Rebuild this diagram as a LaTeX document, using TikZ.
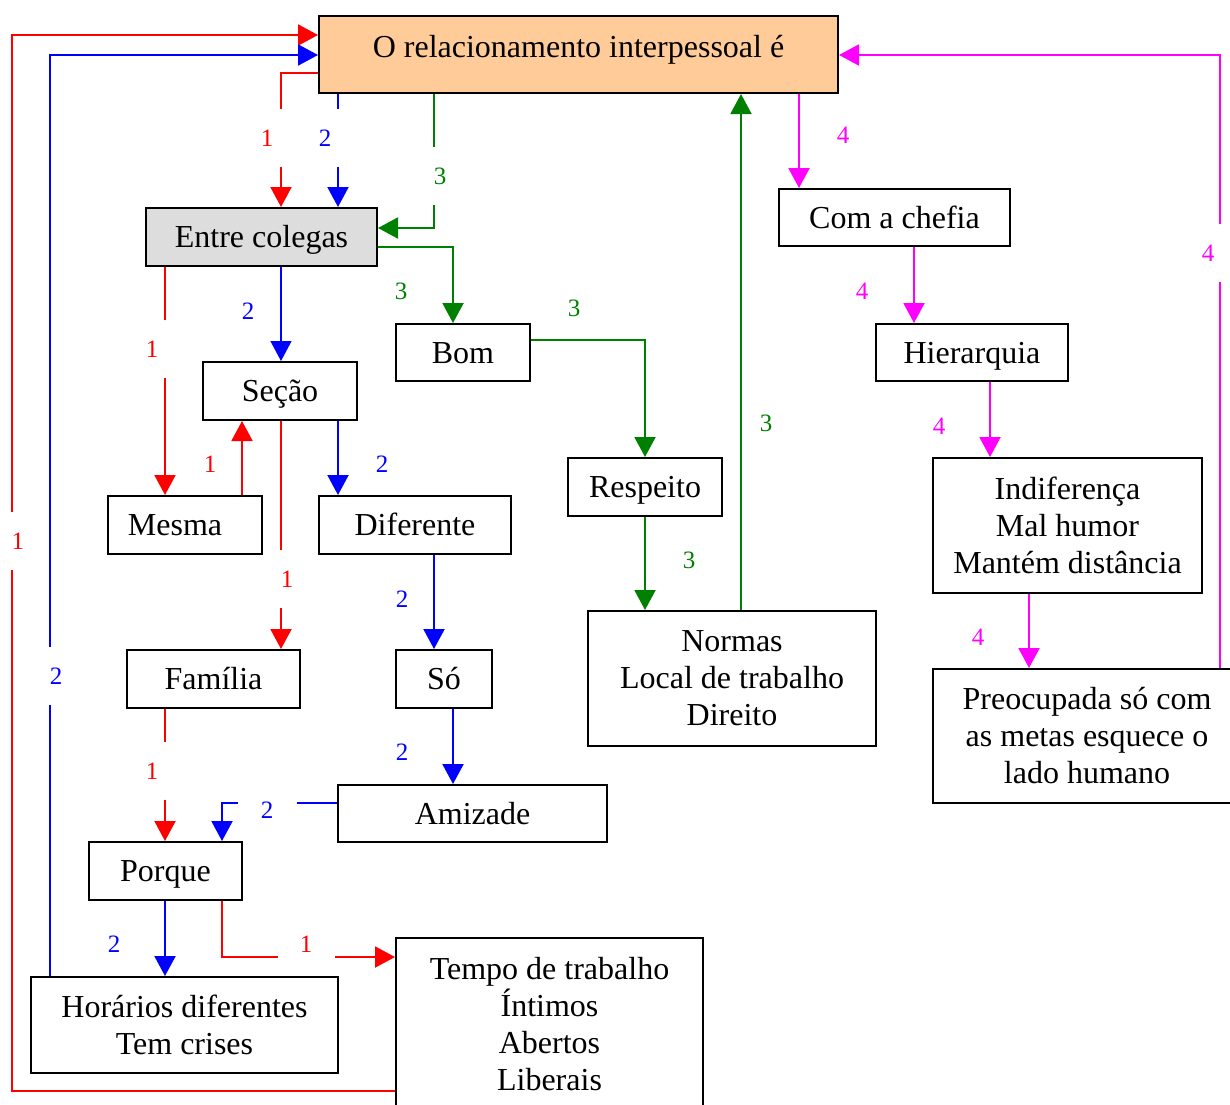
\documentclass[tikz,border=0pt]{standalone}
\usepackage{fontspec}
\setmainfont{Liberation Serif}
\usetikzlibrary{arrows.meta}
\definecolor{peach}{HTML}{FFCC99}
\definecolor{lgray}{HTML}{DDDDDD}
\definecolor{cred}{HTML}{FF0000}
\definecolor{cblue}{HTML}{0000FF}
\definecolor{cgreen}{HTML}{008000}
\definecolor{cmag}{HTML}{FF00FF}
\begin{document}
\begin{tikzpicture}[x=0.5pt,y=-0.5pt,
  bx/.style={draw=black, line width=1pt, fill=white, inner sep=0pt, align=center,
    font=\fontsize{16}{18.5}\selectfont},
  oneA/.style={text height=19.5pt, text depth=9.5pt},
  oneB/.style={text height=19.5pt, text depth=9pt},
  con/.style={line width=1pt, -{Triangle[length=10pt,width=10.5pt]}},
  rc/.style={con, draw=cred},
  bc/.style={con, draw=cblue},
  gc/.style={con, draw=cgreen},
  mc/.style={con, draw=cmag},
  lbl/.style={inner sep=0pt, font=\fontsize{12.5}{14}\selectfont},
  gapbox/.style={fill=white}]
\useasboundingbox (0,0) rectangle (1230,1104);
% boxes
\node[bx, fill=peach, minimum width=259.5pt, text height=20.5pt, text depth=18pt] (top) at (578.5,54.5) {O relacionamento interpessoal é};
\node[bx, oneA, fill=lgray, minimum width=115.5pt] (entre) at (261.5,237) {Entre colegas};
\node[bx, oneB, minimum width=67pt] (bom) at (463,352.5) {Bom};
\node[bx, oneA, minimum width=77pt] (secao) at (280,391) {Seção};
\node[bx, oneA, minimum width=77pt] (mesma) at (185,525) {Mesma\hspace{10pt}};
\node[bx, oneA, minimum width=96pt] (diferente) at (415,525) {Diferente};
\node[bx, oneA, minimum width=77pt] (respeito) at (645,487) {Respeito};
\node[bx, oneB, minimum width=115.5pt] (chefia) at (894.5,217.5) {Com a chefia};
\node[bx, oneB, minimum width=96pt] (hier) at (972,352.5) {Hierarquia};
\node[bx, minimum width=134.5pt, minimum height=67.5pt] (indif) at (1067.5,525.5) {Indiferença\\Mal humor\\Mantém distância};
\node[bx, minimum width=144pt, minimum height=67.5pt] (normas) at (732,678.5) {Normas\\Local de trabalho\\Direito};
\node[bx, minimum width=154pt, minimum height=67pt] (preoc) at (1087,736) {Preocupada só com\\as metas esquece o\\lado humano};
\node[bx, oneA, minimum width=86.5pt] (familia) at (213.5,679) {Família};
\node[bx, oneA, minimum width=48pt] (so) at (444,679) {Só};
\node[bx, oneB, minimum width=134.5pt] (amizade) at (472.5,813.5) {Amizade};
\node[bx, oneA, minimum width=76.5pt] (porque) at (165.5,871) {Porque};
\node[bx, minimum width=153.5pt, minimum height=48pt] (horarios) at (184.5,1025) {Horários diferentes\\Tem crises};
\node[bx, minimum width=153.5pt, minimum height=86pt] (tempo) at (549.5,1024) {Tempo de trabalho\\Íntimos\\Abertos\\Liberais};
% red connectors (1)
\draw[rc] (top.west |- 0,73) -| (entre.north -| 281,0);
\draw[rc] (entre.south -| 165,0) -- (mesma.north -| 165,0);
\draw[rc] (mesma.north -| 242,0) -- (secao.south -| 242,0);
\draw[rc] (secao.south -| 281,0) -- (familia.north -| 281,0);
\draw[rc] (familia.south -| 165,0) -- (porque.north -| 165,0);
\draw[rc] (porque.south -| 222,0) |- (tempo.west |- 0,957);
\draw[rc] (tempo.west |- 0,1091) -| (12,35) -- (top.west |- 0,35);
% blue connectors (2)
\draw[bc] (top.south -| 338,0) -- (entre.north -| 338,0);
\draw[bc, line width=0.6pt] (entre.south -| 281,0) -- (secao.north -| 281,0);
\draw[bc] (secao.south -| 338,0) -- (diferente.north -| 338,0);
\draw[bc] (diferente.south -| 434,0) -- (so.north -| 434,0);
\draw[bc] (so.south -| 453,0) -- (amizade.north -| 453,0);
\draw[bc] (amizade.west |- 0,803) -| (porque.north -| 222,0);
\draw[bc] (porque.south -| 165,0) -- (horarios.north -| 165,0);
\draw[bc] (horarios.north -| 50,0) |- (top.west |- 0,55);
% green connectors (3)
\draw[gc] (top.south -| 434,0) |- (entre.east |- 0,228);
\draw[gc] (entre.east |- 0,247) -| (bom.north -| 453,0);
\draw[gc] (bom.east |- 0,340) -| (respeito.north -| 645,0);
\draw[gc] (respeito.south -| 645,0) -- (normas.north -| 645,0);
\draw[gc] (normas.north -| 741,0) -- (top.south -| 741,0);
% magenta connectors (4)
\draw[mc] (top.south -| 799,0) -- (chefia.north -| 799,0);
\draw[mc] (chefia.south -| 914,0) -- (hier.north -| 914,0);
\draw[mc] (hier.south -| 990,0) -- (indif.north -| 990,0);
\draw[mc] (indif.south -| 1029,0) -- (preoc.north -| 1029,0);
\draw[mc] (preoc.north -| 1220,0) |- (top.east |- 0,55);
% labels
\node[lbl, text=cred, gapbox, minimum width=19pt, minimum height=29pt] (l1a) at (267,138) {1};
\node[lbl, text=cred, gapbox, minimum width=19pt, minimum height=29pt] (l1b) at (152,349) {1};
\node[lbl, text=cred] (l1c) at (210,464) {1};
\node[lbl, text=cred, gapbox, minimum width=15pt, minimum height=29pt] (l1d) at (287,579) {1};
\node[lbl, text=cred, gapbox, minimum width=19pt, minimum height=29pt] (l1e) at (152,771) {1};
\node[lbl, text=cred, gapbox, minimum width=28.5pt, minimum height=18pt] (l1f) at (306,944) {1};
\node[lbl, text=cred, gapbox, minimum width=15pt, minimum height=29pt] (l1g) at (18,541) {1};
\node[lbl, text=cblue, gapbox, minimum width=19pt, minimum height=29pt] (l2a) at (325,138) {2};
\node[lbl, text=cblue] (l2b) at (248,311) {2};
\node[lbl, text=cblue] (l2c) at (382,464) {2};
\node[lbl, text=cblue] (l2d) at (402,599) {2};
\node[lbl, text=cblue] (l2e) at (402,752) {2};
\node[lbl, text=cblue, gapbox, minimum width=29.5pt, minimum height=15pt] (l2f) at (267,810) {2};
\node[lbl, text=cblue] (l2g) at (114,944) {2};
\node[lbl, text=cblue, gapbox, minimum width=15pt, minimum height=29pt] (l2h) at (56,676) {2};
\node[lbl, text=cgreen, gapbox, minimum width=15pt, minimum height=29pt] (l3a) at (440,176) {3};
\node[lbl, text=cgreen] (l3b) at (401,291) {3};
\node[lbl, text=cgreen] (l3c) at (574,308) {3};
\node[lbl, text=cgreen] (l3d) at (689,560) {3};
\node[lbl, text=cgreen] (l3e) at (766,423) {3};
\node[lbl, text=cmag] (l4a) at (843,135) {4};
\node[lbl, text=cmag] (l4b) at (862,291) {4};
\node[lbl, text=cmag] (l4c) at (939,426) {4};
\node[lbl, text=cmag] (l4d) at (978,637) {4};
\node[lbl, text=cmag, gapbox, minimum width=19pt, minimum height=29pt] (l4e) at (1208,253) {4};
\end{tikzpicture}
\end{document}
